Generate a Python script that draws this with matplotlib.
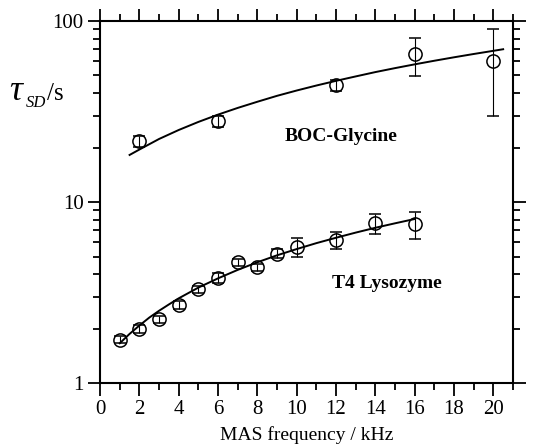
import numpy as np
import matplotlib
matplotlib.use("Agg")
import matplotlib.pyplot as plt
from matplotlib.ticker import MultipleLocator, LogLocator, NullFormatter, FixedLocator, FixedFormatter

plt.rcParams['font.family'] = ['Liberation Serif', 'DejaVu Serif']

# BOC-Glycine
boc_x = [2, 6, 12, 16, 20]
boc_y = [21.7, 28.0, 44.3, 65.5, 60.1]
boc_lo = [1.5, 2.0, 3.0, 15.6, 30.4]
boc_hi = [1.5, 2.0, 3.0, 14.7, 29.9]
boc_fit_x = [1.5, 2, 3, 4, 5, 6, 7, 8, 9, 10, 11, 12, 13, 14, 15, 16, 17, 18, 19, 20, 20.5]
boc_fit_y = [18.2, 19.5, 22.3, 25.0, 27.7, 30.4, 33.1, 35.8, 38.6, 41.3, 44.0,
             46.7, 49.4, 52.2, 54.9, 57.6, 60.3, 63.0, 65.7, 68.4, 69.8]

# T4 Lysozyme
t4_x = [1, 2, 3, 4, 5, 6, 7, 8, 9, 10, 12, 14, 16]
t4_y = [1.74, 1.99, 2.25, 2.70, 3.29, 3.82, 4.66, 4.36, 5.18, 5.64, 6.14, 7.63, 7.53]
t4_lo = [0.08, 0.1, 0.1, 0.15, 0.15, 0.25, 0.2, 0.2, 0.3, 0.69, 0.66, 0.97, 1.26]
t4_hi = [0.08, 0.1, 0.1, 0.15, 0.15, 0.25, 0.2, 0.2, 0.3, 0.71, 0.69, 0.95, 1.31]
t4_fit_x = [1, 1.5, 2, 2.5, 3, 3.5, 4, 5, 6, 7, 8, 9, 10, 11, 12, 13, 14, 15, 16]
t4_fit_y = [1.66, 1.87, 2.08, 2.30, 2.51, 2.72, 2.94, 3.37, 3.79, 4.22, 4.65,
            5.08, 5.50, 5.93, 6.35, 6.78, 7.21, 7.63, 8.06]

fig = plt.figure(figsize=(5.44, 4.46), dpi=100)
ax = fig.add_axes([0.184, 0.141, 0.759, 0.812])

ax.plot(boc_fit_x, boc_fit_y, color='black', lw=1.4)
ax.plot(t4_fit_x, t4_fit_y, color='black', lw=1.4)
ax.errorbar(boc_x, boc_y, yerr=[boc_lo, boc_hi], fmt='o', ms=9.5, mfc='none',
            mec='black', mew=1.1, ecolor='black', elinewidth=0.8, capsize=4, capthick=0.8)
ax.errorbar(t4_x, t4_y, yerr=[t4_lo, t4_hi], fmt='o', ms=9.5, mfc='none',
            mec='black', mew=1.1, ecolor='black', elinewidth=0.8, capsize=4, capthick=0.8)

ax.set_yscale('log')
ax.set_xlim(0, 21)
ax.set_ylim(1, 100)

ax.xaxis.set_major_locator(MultipleLocator(2))
ax.xaxis.set_minor_locator(MultipleLocator(1))
ax.yaxis.set_major_locator(FixedLocator([1, 10, 100]))
ax.yaxis.set_major_formatter(FixedFormatter(['1', '10', '100']))
ax.yaxis.set_minor_locator(LogLocator(base=10, subs=np.arange(2, 10)))
ax.yaxis.set_minor_formatter(NullFormatter())

ax.tick_params(which='both', direction='out', top=True, right=True, labelsize=15, width=1.3)
ax.tick_params(which='major', length=9, pad=3)
ax.tick_params(which='minor', length=5)
for s in ax.spines.values():
    s.set_linewidth(1.5)

ax.set_xlabel('MAS frequency / kHz', fontsize=14, labelpad=5)
# y label: tau with subscript, built from pieces
fig.text(0.016, 0.776, 'τ', fontsize=26, style='italic', va='baseline')
fig.text(0.048, 0.760, 'SD', fontsize=12, style='italic', va='baseline')
fig.text(0.087, 0.776, '/s', fontsize=18, va='baseline')

ax.text(9.4, 22.9, 'BOC-Glycine', fontsize=14, fontweight='bold', va='center')
ax.text(11.8, 3.57, 'T4 Lysozyme', fontsize=14, fontweight='bold', va='center')

fig.savefig('out.png', dpi=100)
